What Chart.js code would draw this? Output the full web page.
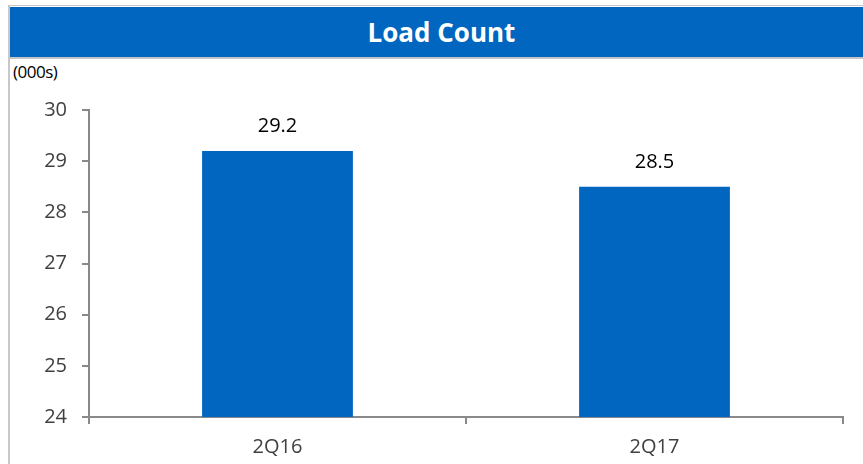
<!DOCTYPE html>
<html>
<head>
<meta charset="utf-8">
<script src="https://cdn.jsdelivr.net/npm/chart.js@4/dist/chart.umd.min.js"></script>
<style>
  html, body { margin: 0; padding: 0; background: #fff; }
  body { width: 863px; height: 464px; position: relative; overflow: hidden; font-family: "Open Sans", sans-serif; }
  .frame { position: absolute; left: 8px; top: 5px; right: 0; bottom: 0; border-top: 1px solid #c8c8c8; border-left: 2px solid #c8c8c8; }
  .header { position: absolute; left: 10px; top: 7px; right: 0; height: 50px; background: #0066bf; border-bottom: 2px solid #c4c4c4;
            color: #fff; font-weight: bold; font-size: 26px; line-height: 50px; text-align: center; padding-left: 10px; box-sizing: content-box; }
  .unit { position: absolute; left: 13px; top: 60px; font-size: 17px; color: #000; letter-spacing: -0.5px; }
  .chart-box { position: absolute; left: 0; top: 0; width: 863px; height: 464px; }
</style>
</head>
<body>
<div class="frame"></div>
<div class="header">Load Count</div>
<div class="unit">(000s)</div>
<div class="chart-box"><canvas id="loadChart"></canvas></div>

<script>
// Chart data
const quarters = ['2Q16', '2Q17'];
const loadCounts = [29.2, 28.5];
const yTicks = [24, 25, 26, 27, 28, 29, 30];

const barBlue = '#0066bf';
const axisGray = '#898989';

// Draw the value above each bar
const valueLabels = {
    id: 'valueLabels',
    afterDatasetsDraw(chart) {
        const ctx = chart.ctx;
        const meta = chart.getDatasetMeta(0);
        ctx.save();
        ctx.font = '20px "Open Sans", sans-serif';
        ctx.fillStyle = '#000';
        ctx.textAlign = 'center';
        ctx.textBaseline = 'alphabetic';
        meta.data.forEach((bar, i) => {
            ctx.fillText(loadCounts[i].toFixed(1), bar.x, bar.y - 19);
        });
        ctx.restore();
    }
};

document.addEventListener('DOMContentLoaded', function () {
    const ctx = document.getElementById('loadChart').getContext('2d');
    new Chart(ctx, {
        type: 'bar',
        data: {
            labels: quarters,
            datasets: [{
                data: loadCounts,
                backgroundColor: barBlue,
                borderWidth: 0,
                categoryPercentage: 1,
                barPercentage: 0.4
            }]
        },
        options: {
            responsive: true,
            maintainAspectRatio: false,
            animation: false,
            layout: { padding: { left: 0, right: 20, top: 110, bottom: 0 } },
            plugins: {
                legend: { display: false },
                tooltip: { enabled: false }
            },
            scales: {
                x: {
                    grid: { display: true, offset: true, drawOnChartArea: false, drawTicks: true, tickLength: 7, color: axisGray, lineWidth: 2 },
                    border: { display: true, color: axisGray, width: 2 },
                    ticks: { color: '#404040', font: { family: 'Open Sans', size: 20 }, padding: 11 },
                    afterFit(scale) { scale.height = 47; }
                },
                y: {
                    min: 24,
                    max: 30,
                    afterBuildTicks(scale) { scale.ticks = yTicks.map(v => ({ value: v })); },
                    grid: { display: true, drawOnChartArea: false, drawTicks: true, tickLength: 7, color: axisGray, lineWidth: 2 },
                    border: { display: true, color: axisGray, width: 2 },
                    ticks: { color: '#404040', font: { family: 'Open Sans', size: 20 }, padding: 15 },
                    afterFit(scale) { scale.width = 89; }
                }
            }
        },
        plugins: [valueLabels]
    });
});
</script>
</body>
</html>
